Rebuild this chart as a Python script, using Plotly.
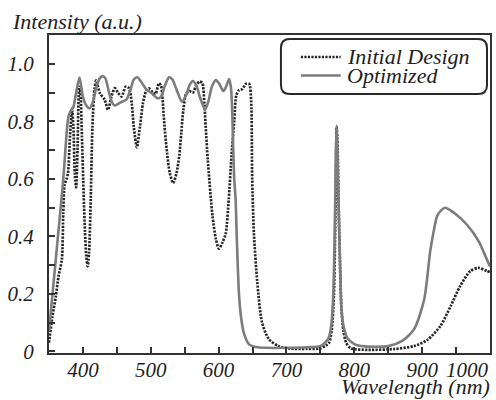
import plotly.graph_objects as go

# Transmission spectra: wavelength (nm) and relative intensity
initial_wl = [350, 355, 360, 364, 369, 371, 373, 376, 378, 381, 384, 386, 388, 390, 392, 394.6,
              396, 398.5, 401, 403, 405, 407, 409, 411.5, 414, 417, 419.5, 425, 432, 437, 442,
              447, 452, 457, 463, 468, 472, 475, 479.5, 484, 488.5, 493, 497, 503, 507, 512,
              515, 517, 520, 524, 528, 533, 538, 542, 545, 548, 552, 557, 562, 567, 572, 576,
              579, 581, 584, 591, 596, 600.5, 606, 610.5, 615, 619, 623, 626, 630, 635, 640,
              645, 648, 649.5, 652, 657, 664, 674, 688, 703, 730, 750, 758, 763, 767, 770, 772,
              774, 775.5, 777, 779, 781, 784, 788, 795, 820, 860, 888, 908, 927, 942, 956, 971,
              983, 995, 1000]
initial_val = [0.03, 0.12, 0.19, 0.26, 0.32, 0.48, 0.58, 0.60, 0.62, 0.75, 0.84, 0.78, 0.62, 0.57, 0.70, 0.92,
               0.91, 0.75, 0.55, 0.42, 0.33, 0.296, 0.34, 0.53, 0.78, 0.91, 0.942, 0.898, 0.875, 0.84, 0.886,
               0.915, 0.898, 0.886, 0.92, 0.915, 0.863, 0.78, 0.709, 0.78, 0.863, 0.905, 0.915, 0.90, 0.895, 0.932,
               0.925, 0.89, 0.79, 0.69, 0.62, 0.585, 0.62, 0.68, 0.76, 0.84, 0.895, 0.905, 0.90, 0.925, 0.938, 0.933,
               0.86, 0.78, 0.667, 0.47, 0.39, 0.357, 0.38, 0.41, 0.53, 0.68, 0.80, 0.89, 0.908, 0.912, 0.93,
               0.93, 0.87, 0.60, 0.41, 0.24, 0.10, 0.042, 0.018, 0.01, 0.008, 0.01, 0.02, 0.03, 0.08, 0.2, 0.45,
               0.78, 0.70, 0.50, 0.30, 0.15, 0.07, 0.03, 0.01, 0.005, 0.008, 0.018, 0.04, 0.088, 0.157, 0.227, 0.279,
               0.29, 0.28, 0.275]

optimized_wl = [350, 360, 370, 373, 376, 379, 383, 386, 390, 395, 400, 405, 410, 415, 420, 425, 429,
                433, 438, 443, 447, 455, 464, 470, 475, 480, 485, 493, 501, 510, 515, 521, 527, 532,
                538, 546, 552, 557, 562, 567, 573, 580, 585, 590, 596, 601, 607, 611, 615.5, 618,
                619.5, 621, 623, 625, 627, 630, 633, 637, 645, 655, 670, 700, 730, 750, 757, 762,
                766, 769, 771, 773, 774, 775, 777, 779, 781, 784, 790, 800, 815, 850, 870, 888, 903,
                912, 918, 922, 928, 934, 945, 956, 966, 976, 985, 991, 1000]
optimized_val = [0.07, 0.32, 0.57, 0.66, 0.76, 0.82, 0.84, 0.85, 0.90, 0.952, 0.885, 0.855, 0.845, 0.87, 0.92, 0.95, 0.957,
                 0.95, 0.905, 0.865, 0.855, 0.865, 0.875, 0.91, 0.945, 0.953, 0.94, 0.912, 0.898, 0.88, 0.885, 0.925, 0.953, 0.945,
                 0.91, 0.868, 0.89, 0.925, 0.94, 0.925, 0.88, 0.84, 0.87, 0.92, 0.943, 0.93, 0.905, 0.92, 0.947, 0.92,
                 0.87, 0.75, 0.60, 0.53, 0.38, 0.20, 0.12, 0.065, 0.024, 0.015, 0.012, 0.012, 0.014, 0.018, 0.03, 0.045,
                 0.09, 0.2, 0.4, 0.7, 0.785, 0.7, 0.5, 0.3, 0.15, 0.09, 0.045, 0.025, 0.017, 0.018, 0.035, 0.076, 0.18,
                 0.35, 0.43, 0.47, 0.49, 0.499, 0.485, 0.464, 0.44, 0.41, 0.375, 0.343, 0.295]

x_ticks = [350, 400, 450, 500, 550, 600, 650, 700, 750, 800, 850, 900, 950, 1000]
x_labels = ['', '400', '', '500', '', '600', '', '700', '', '800', '', '900', '', '']
y_ticks = [0, 0.1, 0.2, 0.3, 0.4, 0.5, 0.6, 0.7, 0.8, 0.9, 1.0]
y_labels = ['0', '', '0.2', '', '0.4', '', '0.6', '', '0.8', '', '1.0']

W, H = 496, 400
PL, PR, PT, PB = 49, 492, 35, 353
INK = '#1e1e1e'
SERIF = 'Liberation Serif, Times New Roman, DejaVu Serif, serif'


def fx(p):
    return (p - PL) / (PR - PL)


def fy(p):
    return (PB - p) / (PB - PT)


fig = go.Figure()
fig.add_trace(go.Scatter(x=initial_wl, y=initial_val, mode='lines', name='Initial Design',
                         line=dict(color='#262626', width=2.7, dash='2.2px,1.3px', shape='spline', smoothing=0.7),
                         showlegend=False))
fig.add_trace(go.Scatter(x=optimized_wl, y=optimized_val, mode='lines', name='Optimized',
                         line=dict(color='#7c7c7c', width=2.6, shape='spline', smoothing=0.7),
                         showlegend=False))

tickfont = dict(family=SERIF, size=21, color=INK, style='italic')
axis_common = dict(showline=True, linecolor='#333333', linewidth=2.2, mirror=True,
                   ticks='inside', ticklen=6, tickwidth=1.5, tickcolor='#333333',
                   showgrid=False, zeroline=False, tickfont=tickfont, tickmode='array')

fig.update_layout(
    width=W, height=H,
    margin=dict(l=PL, r=W - PR, t=PT, b=H - PB),
    paper_bgcolor='white', plot_bgcolor='white',
    font=dict(family=SERIF),
    xaxis=dict(range=[350, 1000], tickvals=x_ticks, ticktext=x_labels, ticklabelstandoff=-3, **axis_common),
    yaxis=dict(range=[-0.006, 1.1], tickvals=y_ticks, ticktext=y_labels, ticklabelstandoff=9, **axis_common),
)

# Axis captions and the end label of the wavelength axis
fig.add_annotation(text='Intensity (a.u.)', xref='paper', yref='paper', x=fx(11), y=fy(22),
                   xanchor='left', yanchor='middle', showarrow=False, borderpad=0,
                   font=dict(family=SERIF, size=22, color=INK, style='italic'))
fig.add_annotation(text='Wavelength (nm)', xref='paper', yref='paper', x=fx(493), y=fy(399.5),
                   xanchor='right', yanchor='bottom', showarrow=False, borderpad=0,
                   font=dict(family=SERIF, size=22, color=INK, style='italic'))
fig.add_annotation(text='1000', xref='x', yref='paper', x=1000, y=fy(369.5),
                   xanchor='right', yanchor='middle', showarrow=False, borderpad=0, font=tickfont)

# Legend: rounded frame, line samples and labels
x0, y0, x1, y1, r = 282, 39, 489, 94, 9
pts = [('M', x0 + r, y0), ('L', x1 - r, y0), ('Q', x1, y0, x1, y0 + r), ('L', x1, y1 - r),
       ('Q', x1, y1, x1 - r, y1), ('L', x0 + r, y1), ('Q', x0, y1, x0, y1 - r), ('L', x0, y0 + r),
       ('Q', x0, y0, x0 + r, y0)]
path = ''
for cmd, *c in pts:
    coords = ' '.join(f'{fx(c[i]):.5f},{fy(c[i + 1]):.5f}' for i in range(0, len(c), 2))
    path += f'{cmd} {coords} '
path += 'Z'
fig.add_shape(type='path', path=path, xref='paper', yref='paper',
              line=dict(color='#2a2a2a', width=2), fillcolor='white', layer='above')

legend_rows = [('Initial Design', dict(color='#262626', width=2.7, dash='2.2px,1.3px'), 57),
               ('Optimized', dict(color='#7c7c7c', width=2.6), 75.5)]
for label, style, yy in legend_rows:
    fig.add_shape(type='line', xref='paper', yref='paper', x0=fx(302), x1=fx(342), y0=fy(yy), y1=fy(yy),
                  line=style, layer='above')
    fig.add_annotation(text=label, xref='paper', yref='paper', x=fx(347), y=fy(yy - 0.5),
                       xanchor='left', yanchor='middle', showarrow=False, borderpad=0,
                       font=dict(family=SERIF, size=22, color=INK, style='italic'))

fig.write_html('out.html')
